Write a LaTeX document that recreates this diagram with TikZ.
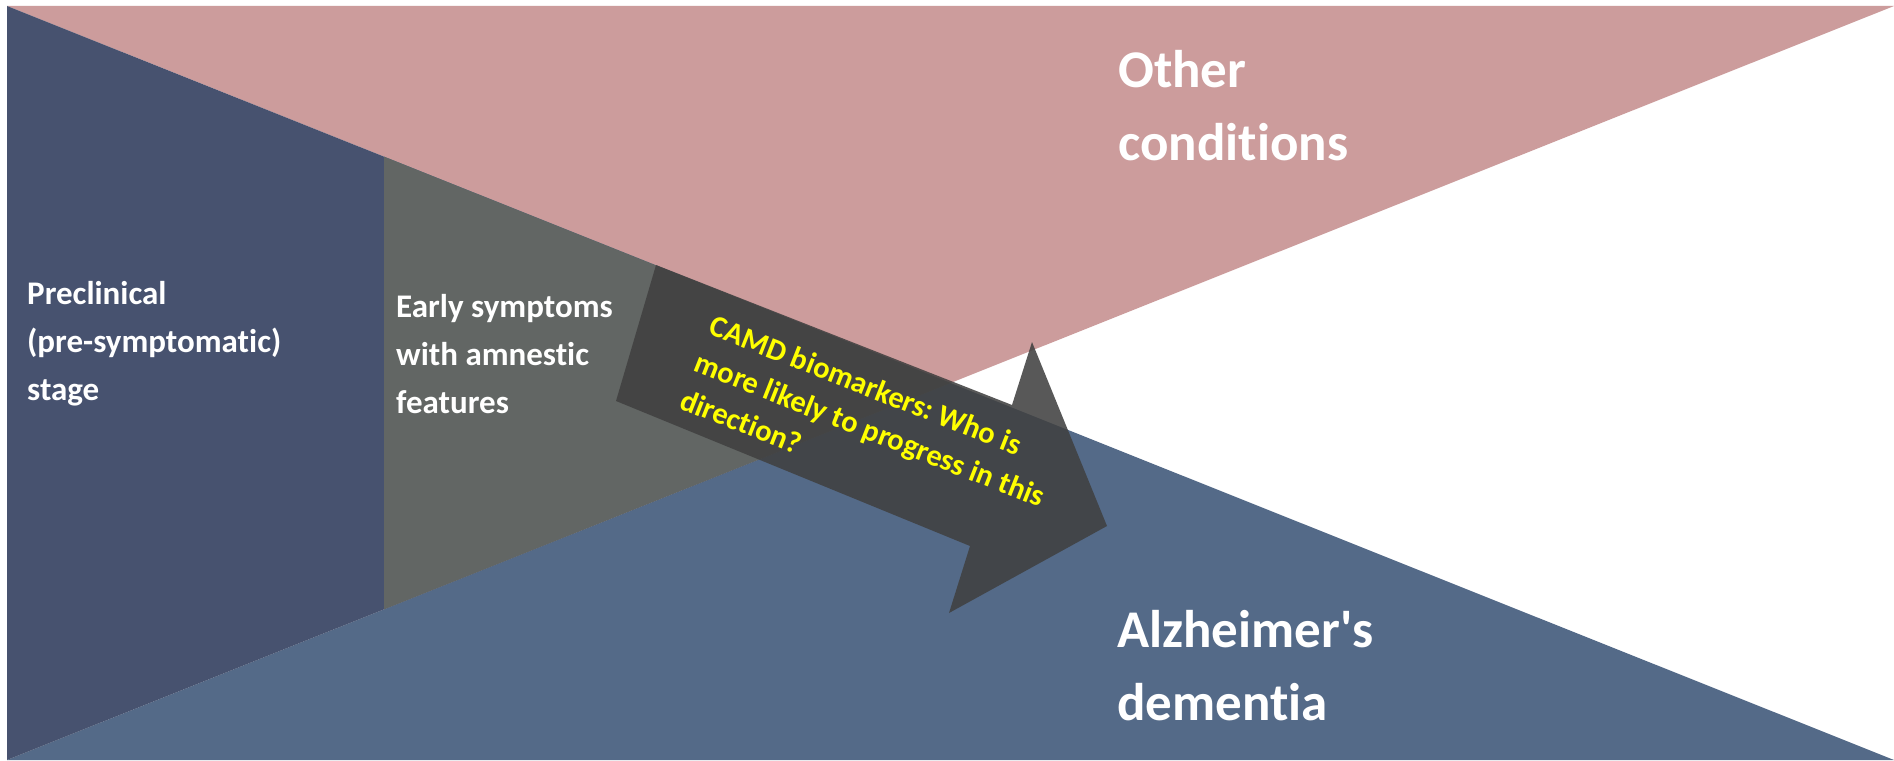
\documentclass[tikz,border=0pt]{standalone}
\usepackage{fontspec}
\setmainfont{Carlito}[Ligatures=NoCommon]
\usetikzlibrary{calc}
\frenchspacing

\definecolor{navy}{RGB}{71,82,111}
\definecolor{slate}{RGB}{98,102,100}
\definecolor{rose}{RGB}{204,156,156}
\definecolor{steel}{RGB}{84,106,136}
\definecolor{ink}{RGB}{64,64,64}
\definecolor{lemon}{RGB}{255,255,0}

\begin{document}
\begin{tikzpicture}[
  x=1pt, y=-1pt,
  lbl/.style={text=white, align=left, inner sep=0pt, anchor=base west},
  stage/.style={lbl, font=\bfseries\fontsize{33}{48}\selectfont},
  outcome/.style={lbl, font=\bfseries\fontsize{53}{72.5}\selectfont},
  ask/.style={lbl, text=lemon, font=\bfseries\fontsize{30.5}{40}\selectfont, rotate=-21.5},
  shade/.style={fill=ink, fill opacity=0.87},
]
\fill[white] (0,0) rectangle (1894,760);
\useasboundingbox (0,0) rectangle (1894,760);

% ---- field corners, crossing of the diagonals ----
\coordinate (tl) at (7,6);
\coordinate (tr) at (1894,6);
\coordinate (bl) at (7,760);
\coordinate (br) at (1894,760);
\coordinate (c) at ($(tl)!0.5!(br)$);
\coordinate (gtop) at ($(tl)!0.3996!(c)$);
\coordinate (gbot) at ($(bl)!0.3996!(c)$);

% ---- the four wedges ----
\fill[rose] (tl) -- (tr) -- (c) -- cycle;
\fill[steel] (bl) -- (br) -- (c) -- cycle;
\fill[navy] (tl) -- (c) -- (bl) -- cycle;
\fill[slate] (gtop) -- (c) -- (gbot) -- cycle;

% ---- progression arrow ----
\fill[shade] (656,265) -- (1012,405) -- (1032,342) -- (1107,526)
  -- (949,613) -- (970,546) -- (616,401) -- cycle;

% ---- labels (anchored on the last line's baseline) ----
\node[stage] (pre) at (27,400) {Preclinical\\(pre-symptomatic)\\stage};
\node[stage] (early) at (396,413) {Early symptoms\\with amnestic\\features};
\node[outcome] (other) at (1118,160) {Other\\conditions};
\node[outcome] (alz) at (1117,720) {Alzheimer\textquotesingle s\\dementia};
\node[ask] (camd) at (678,408) {CAMD biomarkers: Who is\\more likely to progress in this\\direction?};
\end{tikzpicture}
\end{document}
